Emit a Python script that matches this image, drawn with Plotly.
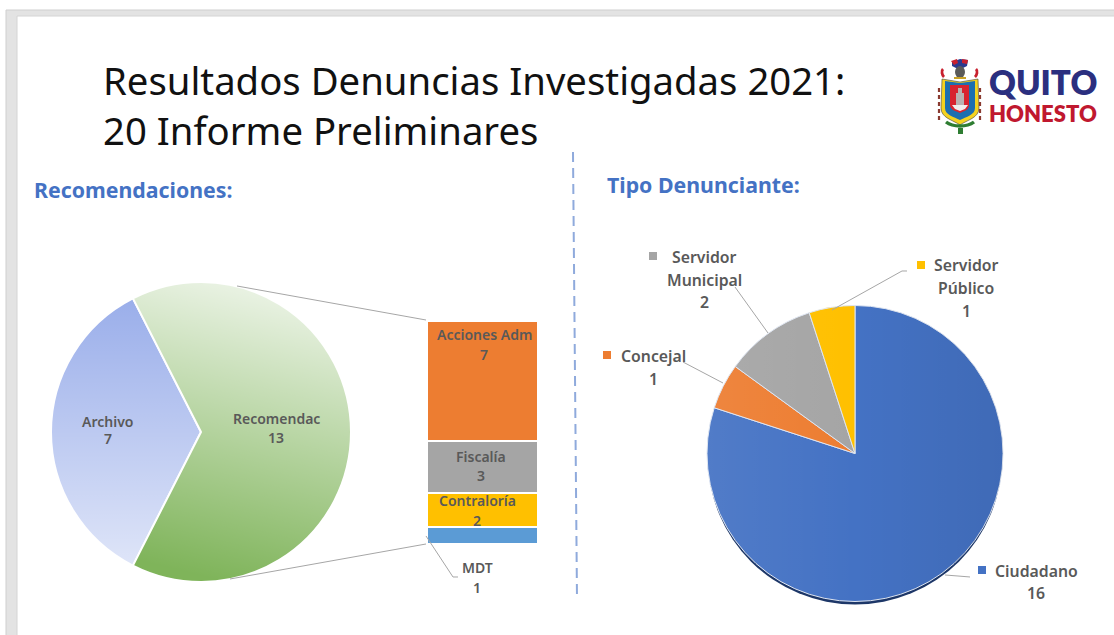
import base64, math
import plotly.graph_objects as go

W, H = 1114, 635

# ---- data ----
main_labels = ["Archivo", "Recomendac"]
main_values = [7, 13]
detail_labels = ["MDT", "Contraloría", "Fiscalía", "Acciones Adm"]
detail_values = [1, 2, 3, 7]
tipo_labels = ["Ciudadano", "Concejal", "Servidor Municipal", "Servidor Público"]
tipo_values = [16, 1, 2, 1]

# ---- styles ----
main_colors = ["#9aaeea", "#7fb45a"]
detail_colors = ["#5b9bd5", "#ffc000", "#a5a5a5", "#ed7d31"]
tipo_colors = ["#4472c4", "#ed7d31", "#a5a5a5", "#ffc000"]
FONT = "Noto Sans"
GREY = "#595959"
ROT = -153


def px(x):
    return x / W


def py(y):
    return 1 - y / H


def svg_uri(svg):
    return "data:image/svg+xml;base64," + base64.b64encode(svg.encode()).decode()


def wedge(a0, a1):
    p = lambda a: (math.sin(math.radians(a)), -math.cos(math.radians(a)))
    x0, y0 = p(a0)
    x1, y1 = p(a1)
    large = 1 if a1 - a0 > 180 else 0
    return f"M0 0L{x0:.4f} {y0:.4f}A1 1 0 {large} 1 {x1:.4f} {y1:.4f}Z"


def paper_image(uri, x0, y0, x1, y1):
    return dict(source=uri, xref="paper", yref="paper", x=px(x0), y=py(y0),
                sizex=(x1 - x0) / W, sizey=(y1 - y0) / H, xanchor="left", yanchor="top",
                sizing="stretch", layer="above")


def rect(x0, y0, x1, y1, fill, line=None, layer="below"):
    return dict(type="rect", xref="paper", yref="paper", x0=px(x0), x1=px(x1), y0=py(y0), y1=py(y1),
                fillcolor=fill, line=dict(color=line or fill, width=1 if line else 0), layer=layer)


def seg(pts, color="#a6a6a6", width=1, dash="solid"):
    path = "M" + "L".join(f"{px(x):.5f},{py(y):.5f}" for x, y in pts)
    return dict(type="path", path=path, xref="paper", yref="paper",
                line=dict(color=color, width=width, dash=dash), layer="above")


fig = go.Figure()

# ---- left pie ----
cx1, cy1, r1 = 201, 432, 150
fig.add_trace(go.Pie(labels=main_labels, values=main_values, sort=False, direction="clockwise",
                     rotation=ROT, textinfo="none", hoverinfo="label+value",
                     marker=dict(colors=main_colors, line=dict(color="white", width=2)),
                     domain=dict(x=[px(cx1 - r1), px(cx1 + r1)], y=[py(cy1 + r1), py(cy1 - r1)])))

# ---- right pie ----
cx2, cy2, r2 = 855, 453.5, 148
fig.add_trace(go.Pie(labels=tipo_labels, values=tipo_values, sort=False, direction="clockwise",
                     rotation=0, textinfo="none", hoverinfo="label+value",
                     marker=dict(colors=tipo_colors, line=dict(color="#dfe6f2", width=1)),
                     domain=dict(x=[px(cx2 - r2), px(cx2 + r2)], y=[py(cy2 + r2), py(cy2 - r2)])))

# ---- stacked detail bar ----
for name, val, col in zip(detail_labels, detail_values, detail_colors):
    fig.add_trace(go.Bar(x=["Recomendac"], y=[val], name=name, width=1,
                         marker=dict(color=col, line=dict(color="white", width=2))))

# ---- gradient overlays ----
total = sum(main_values)
a0 = 360 + ROT
a1 = a0 + 360 * main_values[0] / total
a2 = a1 + 360 * main_values[1] / total
pie_overlay = f"""<svg xmlns="http://www.w3.org/2000/svg" width="300" height="300" viewBox="-1 -1 2 2">
<defs>
<linearGradient id="a" x1="0" y1="0" x2="0" y2="1"><stop offset="0" stop-color="#fff" stop-opacity="0"/><stop offset="1" stop-color="#fff" stop-opacity=".68"/></linearGradient>
<linearGradient id="r" x1=".6" y1="0" x2=".42" y2="1"><stop offset="0" stop-color="#fff" stop-opacity=".86"/><stop offset="1" stop-color="#fff" stop-opacity="0"/></linearGradient>
</defs>
<path d="{wedge(a0, a1)}" fill="url(#a)"/>
<path d="{wedge(a1, a2)}" fill="url(#r)"/>
</svg>"""
right_overlay = """<svg xmlns="http://www.w3.org/2000/svg" width="300" height="300" viewBox="-1 -1 2 2">
<defs><linearGradient id="g" x1="0" y1="0" x2="1" y2="0"><stop offset="0" stop-color="#fff" stop-opacity=".07"/><stop offset=".5" stop-color="#fff" stop-opacity="0"/><stop offset=".5" stop-color="#000" stop-opacity="0"/><stop offset="1" stop-color="#000" stop-opacity=".07"/></linearGradient></defs>
<circle r="1" fill="url(#g)"/></svg>"""
crest = """<svg xmlns="http://www.w3.org/2000/svg" width="180" height="308" viewBox="0 0 45 77">
<path d="M15 4l8-3 8 1-1 6-6 3-5-1-4-2z" fill="#2b3a8f"/><path d="M14 3l6-2 1 4-4 2z" fill="#c8202f"/><path d="M25 1l6 1-1 4-5-1z" fill="#c8202f"/>
<ellipse cx="23" cy="14" rx="5" ry="6" fill="#5a5a5a"/><path d="M17 21h12v-2H17z" fill="#c9a227"/>
<path d="M6 11c-2 2-1 6 1 8M39 11c2 2 1 6-1 8" stroke="#c8202f" stroke-width="2.8" fill="none"/>
<path d="M5 21L23 24 41 21 42 50C42 60 30 62 23 67 16 62 4 60 4 50Z" fill="#f4d21f" stroke="#3f3f3f" stroke-width=".6"/>
<path d="M8 23L23 25 38 23 38 50C38 57 29 59 23 62 17 59 8 57 8 50Z" fill="#1c6fb0"/>
<path d="M13 27H32V47C32 52 27 53 23 55 19 53 13 52 13 47Z" fill="#d8232f"/>
<path d="M19 35h8v12h-8zM21 30h4v5h-4z" fill="#b9b2b2"/><path d="M15 47h16l-3 4-5 2-5-2z" fill="#f0eeee"/>
<path d="M2 30v33M43 30v33" stroke="#8a3a30" stroke-width="2.2" stroke-dasharray="4 3"/>
<path d="M9 64c4 3 9 4 14 4s10-1 14-4" stroke="#2e7d32" stroke-width="3.4" fill="none"/>
<path d="M21 70h5v6h-5z" fill="#2e7d32"/></svg>"""

images = [
    paper_image(svg_uri(pie_overlay), cx1 - r1, cy1 - r1, cx1 + r1, cy1 + r1),
    paper_image(svg_uri(right_overlay), cx2 - r2, cy2 - r2, cx2 + r2, cy2 + r2),
    paper_image(svg_uri(crest), 937, 58, 982, 135),
]

# ---- shapes ----
shapes = [
    rect(6, 10, W + 5, H + 5, "#e3e3e3", "#cfcfcf"),
    rect(17, 16, W + 5, H + 5, "white", "#d4d4d4"),
    dict(type="circle", xref="paper", yref="paper", x0=px(cx2 - 147), x1=px(cx2 + 147),
         y0=py(604.5), y1=py(312), fillcolor="#1d3768", line=dict(width=0), layer="below"),
    seg([(573, 152), (577, 598)], "#8faadc", 2, "10px,6px"),
    seg([(237, 286), (426, 320)]),
    seg([(230, 579), (426, 544)]),
    seg([(426, 536), (453, 577), (458, 577)]),
    seg([(683, 362), (723, 383)]),
    seg([(735, 287), (768, 333)]),
    seg([(907, 271), (902, 271), (832, 310)]),
    seg([(970, 577), (958, 576), (945, 575)]),
]
for (x, y), col in zip([(982, 570), (607, 355), (653, 256), (921, 265)], tipo_colors):
    shapes.append(rect(x - 4, y - 4, x + 4, y + 4, col))


# ---- text ----
def note(text, x, y, size=14, color=GREY, weight=600, anchor="center", family=FONT):
    return dict(text=text, x=px(x), y=py(y), xref="paper", yref="paper", showarrow=False,
                xanchor=anchor, yanchor="middle", font=dict(family=family, size=size, color=color, weight=weight))


d = dict(zip(detail_labels, detail_values))
m = dict(zip(main_labels, main_values))
t = dict(zip(tipo_labels, tipo_values))
BIG = 15.8
annotations = [
    note("Resultados Denuncias Investigadas 2021:", 101, 80, 38.3, "#111111", 400, "left"),
    note("20 Informe Preliminares", 101, 130, 38.3, "#111111", 400, "left"),
    note("Recomendaciones:", 32, 189, 21.3, "#4472c4", 700, "left"),
    note("Tipo Denunciante:", 605, 185, 21.3, "#4472c4", 700, "left"),
    note("Archivo", 108, 421), note(str(m["Archivo"]), 108, 439),
    note("Recomendac", 276, 418), note(str(m["Recomendac"]), 276, 437),
    note("Acciones Adm", 484, 335), note(str(d["Acciones Adm"]), 484, 354),
    note("Fiscalía", 481, 456), note(str(d["Fiscalía"]), 481, 475),
    note("Contraloría", 477, 500), note(str(d["Contraloría"]), 477, 520),
    note("MDT", 477, 567), note(str(d["MDT"]), 477, 587),
    note("Concejal", 653, 356, BIG), note(str(t["Concejal"]), 653, 379, BIG),
    note("Servidor", 704, 257, BIG), note("Municipal", 704, 280, BIG), note(str(t["Servidor Municipal"]), 704, 302, BIG),
    note("Servidor", 966, 265, BIG), note("Público", 966, 288, BIG), note(str(t["Servidor Público"]), 966, 311, BIG),
    note("Ciudadano", 1036, 571, BIG), note(str(t["Ciudadano"]), 1036, 593, BIG),
    note("QUITO", 1043, 82, 33, "#2b2f7f", 800, "center", "Lato"),
    note("HONESTO", 1043, 114, 22, "#c0182f", 800, "center", "Lato"),
]

fig.update_layout(
    width=W, height=H, margin=dict(l=0, r=0, t=0, b=0), paper_bgcolor="white", plot_bgcolor="rgba(0,0,0,0)",
    showlegend=False, barmode="stack", bargap=0,
    xaxis=dict(visible=False, domain=[px(427), px(538)], range=[-0.5, 0.5], fixedrange=True),
    yaxis=dict(visible=False, domain=[py(544), py(321)], range=[0, sum(detail_values)], fixedrange=True),
    shapes=shapes, images=images, annotations=annotations,
)
fig.write_html("out.html", config=dict(displayModeBar=False),
               post_script="document.body.style.margin='0';document.body.style.overflow='hidden';")
